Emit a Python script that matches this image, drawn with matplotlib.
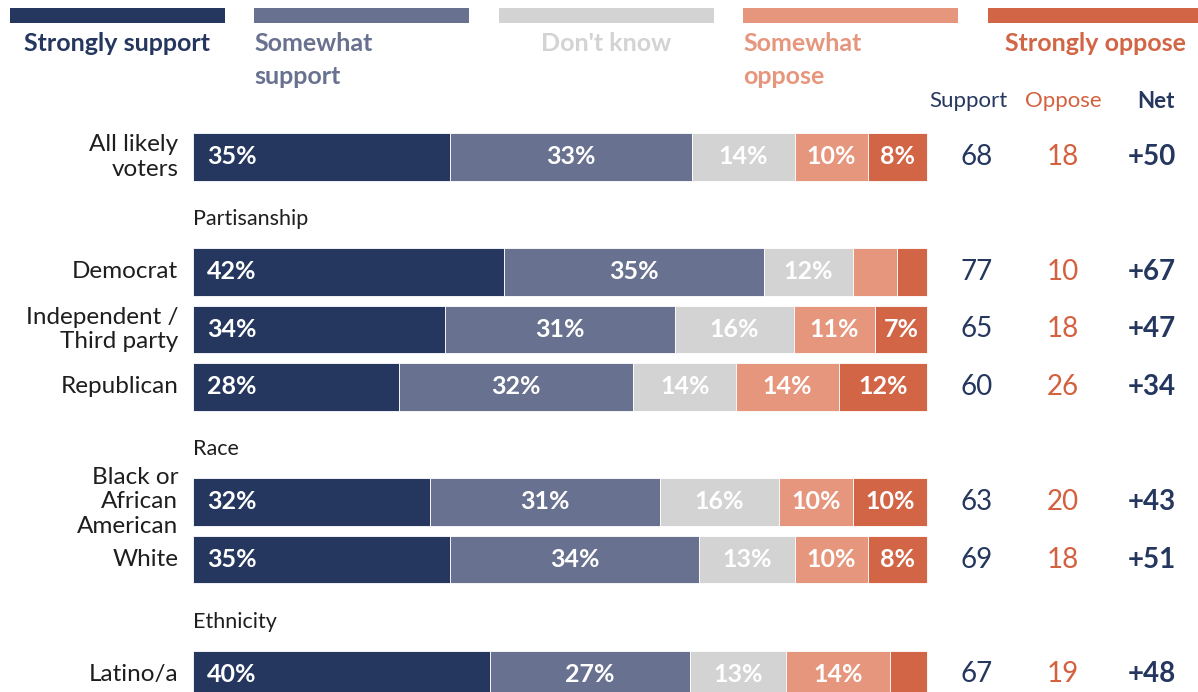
import numpy as np
import matplotlib
matplotlib.use("Agg")
import matplotlib.pyplot as plt
from matplotlib.patches import Rectangle
from matplotlib.transforms import blended_transform_factory

plt.rcParams['font.family'] = ['Lato', 'DejaVu Sans']

# data
categories = ["Strongly support", "Somewhat\nsupport", "Don't know", "Somewhat\noppose", "Strongly oppose"]
groups = ["All likely\nvoters", "Democrat", "Independent /\nThird party", "Republican",
          "Black or\nAfrican\nAmerican", "White", "Latino/a"]
strongly_support = [35, 42, 34, 28, 32, 35, 40]
somewhat_support = [33, 35, 31, 32, 31, 34, 27]
dont_know = [14, 12, 16, 14, 16, 13, 13]
somewhat_oppose = [10, 6, 11, 14, 10, 10, 14]
strongly_oppose = [8, 4, 7, 12, 10, 8, 5]
support_total = [68, 77, 65, 60, 63, 69, 67]
oppose_total = [18, 10, 18, 26, 20, 18, 19]
net = ["+50", "+67", "+47", "+34", "+43", "+51", "+48"]
sections = ["Partisanship", "Race", "Ethnicity"]

# layout slots (section headers take one slot)
row_slots = [0, 2, 3, 4, 6, 7, 9]
section_slots = [1, 5, 8]

colors = ["#25375F", "#68718F", "#D3D3D3", "#E6967C", "#D16545"]
text_dark = "#1E1E1E"
navy = "#25375F"
orange = "#D3613F"

W, H = 1198, 692
fig = plt.figure(figsize=(W / 100, H / 100), dpi=100)
ax = fig.add_axes([0, 0, 1, 1])
px = 7.34  # pixels per percent
x0 = 193
ax.set_xlim(-x0 / px, (W - x0) / px)
ax.set_ylim((H - 157) / 57.5, -157 / 57.5)
ax.axis("off")

series = np.array([strongly_support, somewhat_support, dont_know, somewhat_oppose, strongly_oppose], dtype=float)
shares = series / series.sum(axis=0) * 100  # bars fill the full width
left = np.zeros(len(groups))
for vals, widths, col in zip(series, shares, colors):
    ax.barh(row_slots, widths, left=left, height=0.82, color=col, edgecolor="white", linewidth=0.6)
    for y, l, v, w in zip(row_slots, left, vals, widths):
        if v >= 7:
            if l > 0:
                ax.text(l + w / 2, y, f"{v:.0f}%", ha="center", va="center", color="white",
                        fontsize=18, fontweight="bold")
            else:
                ax.text(l + 1.9, y, f"{v:.0f}%", ha="left", va="center", color="white",
                        fontsize=18, fontweight="bold")
    left += widths

for y, g in zip(row_slots, groups):
    ax.text(-2, y, g, ha="right", va="center", fontsize=17.5, color=text_dark, linespacing=1.18)

for y, s in zip(section_slots, sections):
    ax.text(0, y + 0.08, s, ha="left", va="center", fontsize=15.5, color=text_dark)

# right-hand columns
tr = blended_transform_factory(fig.transFigure, ax.transData)
col_x = [977 / W, 1063 / W, 1152 / W]
for y, s, o, n in zip(row_slots, support_total, oppose_total, net):
    ax.text(col_x[0], y, str(s), transform=tr, ha="center", va="center", fontsize=20, color=navy)
    ax.text(col_x[1], y, str(o), transform=tr, ha="center", va="center", fontsize=20, color=orange)
    ax.text(col_x[2], y, n, transform=tr, ha="center", va="center", fontsize=20, color=navy,
            fontweight="bold")

hdr_y = 1 - 101 / H
fig.text(968 / W, hdr_y, "Support", ha="center", va="center", fontsize=16, color=navy)
fig.text(1063 / W, hdr_y, "Oppose", ha="center", va="center", fontsize=16, color=orange)
fig.text(1156 / W, hdr_y, "Net", ha="center", va="center", fontsize=16, color=navy, fontweight="bold")

# legend bars on top
leg_w = 215
leg_step = 244.4
for i, (cat, col) in enumerate(zip(categories, colors)):
    lx = 10 + i * leg_step
    fig.patches.append(Rectangle((lx / W, 1 - 23 / H), leg_w / W, 15 / H, transform=fig.transFigure,
                                 facecolor=col, edgecolor="none"))
    if "\n" in cat:
        fig.text(lx / W, 1 - 32 / H, cat, ha="left", va="top", fontsize=18, fontweight="bold",
                 color=col, linespacing=1.55)
    else:
        fig.text((lx + leg_w / 2) / W, 1 - 32 / H, cat, ha="center", va="top", fontsize=18,
                 fontweight="bold", color=col)

fig.savefig("out.png", dpi=100)
